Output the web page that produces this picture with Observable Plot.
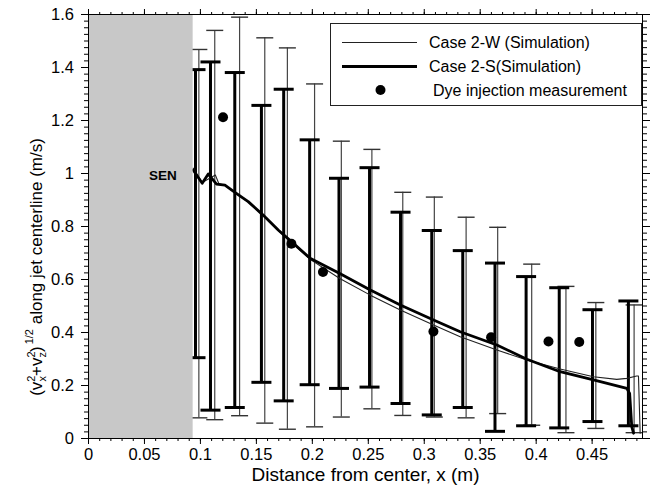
<!DOCTYPE html>
<html><head><meta charset="utf-8">
<script src="https://cdn.jsdelivr.net/npm/d3@7"></script>
<script src="https://cdn.jsdelivr.net/npm/@observablehq/plot@0.6"></script>
<style>body{margin:0;background:#fff}</style>
</head><body><div id="chart"></div>
<script>
// ---- data ----
const xTicks = [0, 0.05, 0.1, 0.15, 0.2, 0.25, 0.3, 0.35, 0.4, 0.45];
const yTicks = [0, 0.2, 0.4, 0.6, 0.8, 1, 1.2, 1.4, 1.6];
const xMinorTicks = d3.range(0, 50).map(i => i / 100);
const yMinorTicks = d3.range(0, 65).map(i => i * 0.025);
const xLabel = "Distance from center, x (m)";
const seriesNames = ["Case 2-W (Simulation)", "Case 2-S(Simulation)", "Dye injection measurement"];
const senLabel = "SEN";
const senExtent = [0, 0.0935];
const senLabelPos = [0.0665, 0.99];

// Case 2-W simulation (thin)
const wX = [0.0935, 0.1016, 0.1134, 0.1164, 0.1219, 0.1308, 0.1427, 0.156, 0.1695, 0.1813, 0.198, 0.2245, 0.2518, 0.2786, 0.3083, 0.3321, 0.3649, 0.3917, 0.4214, 0.4512, 0.472, 0.481, 0.4898, 0.4914, 0.4929];
const wY = [1.02, 0.966, 0.994, 0.962, 0.955, 0.927, 0.892, 0.841, 0.785, 0.740, 0.676, 0.604, 0.541, 0.485, 0.428, 0.384, 0.334, 0.296, 0.262, 0.233, 0.223, 0.227, 0.236, 0.236, 0.02];
// Case 2-S simulation (thick)
const sX = [0.0935, 0.1016, 0.107, 0.1144, 0.1219, 0.1308, 0.1427, 0.156, 0.1695, 0.1813, 0.198, 0.2245, 0.2518, 0.2786, 0.3083, 0.3321, 0.3649, 0.3917, 0.4214, 0.4512, 0.481, 0.4835, 0.4854, 0.487];
const sY = [1.013, 0.963, 0.998, 0.960, 0.956, 0.929, 0.894, 0.843, 0.787, 0.743, 0.680, 0.623, 0.560, 0.504, 0.447, 0.403, 0.353, 0.299, 0.252, 0.221, 0.189, 0.17, 0.045, 0.02];

// error bars, Case 2-S (thick)
const sBarX  = [0.0956, 0.109, 0.1307, 0.1545, 0.1744, 0.1976, 0.2238, 0.2511, 0.2788, 0.3067, 0.3344, 0.3632, 0.391, 0.4206, 0.4503, 0.4824];
const sBarHi = [1.392, 1.421, 1.381, 1.257, 1.318, 1.127, 0.982, 1.022, 0.854, 0.785, 0.709, 0.662, 0.611, 0.569, 0.486, 0.519];
const sBarLo = [0.305, 0.107, 0.117, 0.212, 0.142, 0.203, 0.189, 0.194, 0.132, 0.089, 0.117, 0.027, 0.048, 0.040, 0.064, 0.048];
// error bars, Case 2-W (thin)
const wBarX  = [0.0986, 0.1128, 0.135, 0.1575, 0.1777, 0.202, 0.2259, 0.2532, 0.2808, 0.309, 0.3374, 0.3656, 0.396, 0.4266, 0.4533, 0.4875];
const wBarHi = [1.468, 1.54, 1.59, 1.512, 1.474, 1.338, 1.122, 1.091, 0.929, 0.911, 0.835, 0.797, 0.658, 0.574, 0.513, 0.504];
const wBarLo = [0.078, 0.071, 0.086, 0.058, 0.035, 0.044, 0.081, 0.112, 0.087, 0.081, 0.078, 0.094, 0.05, 0.022, 0.038, 0.022];

// dye injection measurements
const dyeX = [0.1202, 0.1813, 0.2095, 0.3082, 0.3597, 0.411, 0.4385];
const dyeY = [1.212, 0.735, 0.628, 0.404, 0.382, 0.366, 0.364];

// ---- tables ----
const wLine = wX.map((x, i) => ({x, y: wY[i]}));
const sLine = sX.map((x, i) => ({x, y: sY[i]}));
const sBars = sBarX.map((x, i) => ({x, lo: sBarLo[i], hi: sBarHi[i]}));
const wBars = wBarX.map((x, i) => ({x, lo: wBarLo[i], hi: wBarHi[i]}));
const dye = dyeX.map((x, i) => ({x, y: dyeY[i]}));

const FONT = "'Liberation Sans', Arial, Helvetica, sans-serif";
const cap = hw => ({draw(ctx) { ctx.moveTo(-hw, 0); ctx.lineTo(hw, 0); }});

function yLabelMark() {
  const g = d3.create("svg:g");
  const cy = 267, bx = 42;
  const t = g.append("text")
    .attr("transform", `translate(${bx},${cy}) rotate(-90)`)
    .attr("text-anchor", "middle")
    .attr("font-size", 17)
    .attr("font-family", FONT)
    .attr("fill", "black");
  t.append("tspan").text("(v");
  t.append("tspan").attr("font-size", 11).attr("dy", -7).text("2");
  t.append("tspan").attr("font-size", 11).attr("dx", -6).attr("dy", 11).text("x");
  t.append("tspan").attr("dy", -4).text("+v");
  t.append("tspan").attr("font-size", 11).attr("dy", -7).text("2");
  t.append("tspan").attr("font-size", 11).attr("dx", -6).attr("dy", 11).text("z");
  t.append("tspan").attr("dy", -4).text(")");
  t.append("tspan").attr("font-size", 11).attr("dy", -9).attr("dx", 2).text("1/2");
  t.append("tspan").attr("dy", 9).text(" along jet centerline (m/s)");
  return g.node();
}

function legendMark() {
  const g = d3.create("svg:g").attr("font-family", FONT).attr("text-anchor", "start");
  g.append("rect").attr("x", 330.5).attr("y", 23.5).attr("width", 311).attr("height", 82)
    .attr("fill", "white").attr("stroke", "#222").attr("stroke-width", 1);
  g.append("line").attr("x1", 342).attr("x2", 417).attr("y1", 42.5).attr("y2", 42.5)
    .attr("stroke", "#222").attr("stroke-width", 1.2);
  g.append("line").attr("x1", 342).attr("x2", 417).attr("y1", 66.5).attr("y2", 66.5)
    .attr("stroke", "black").attr("stroke-width", 2.8);
  g.append("path").attr("d", d3.symbol(d3.symbolCircle, Math.PI * 25)())
    .attr("transform", "translate(380.5,90)").attr("fill", "black");
  const rows = [[429, 42.5], [429, 66.5], [433, 90]];
  seriesNames.forEach((name, i) => {
    g.append("text").attr("x", rows[i][0]).attr("y", rows[i][1]).attr("dy", "0.35em")
      .attr("text-anchor", "start")
      .attr("font-size", 16).attr("fill", "black").text(name);
  });
  return g.node();
}

const chart = Plot.plot({
  width: 657, height: 490,
  marginLeft: 88, marginRight: 15, marginTop: 14, marginBottom: 52,
  style: {fontFamily: FONT, fontSize: "16.5px", color: "black", background: "white"},
  x: {domain: [0, 0.495], label: null},
  y: {domain: [0, 1.6], label: null},
  marks: [
    // thin error bars
    Plot.ruleX(wBars, {x: "x", y1: "lo", y2: "hi", stroke: "#444", strokeWidth: 1.2}),
    Plot.dot(wBars, {x: "x", y: "hi", symbol: cap(8.5), r: 3, stroke: "#333", strokeWidth: 1.4, fill: "none"}),
    Plot.dot(wBars, {x: "x", y: "lo", symbol: cap(8.5), r: 3, stroke: "#333", strokeWidth: 1.4, fill: "none"}),
    // thick error bars
    Plot.ruleX(sBars, {x: "x", y1: "lo", y2: "hi", stroke: "black", strokeWidth: 3}),
    Plot.dot(sBars, {x: "x", y: "hi", symbol: cap(10), r: 3, stroke: "black", strokeWidth: 3, fill: "none"}),
    Plot.dot(sBars, {x: "x", y: "lo", symbol: cap(10), r: 3, stroke: "black", strokeWidth: 3, fill: "none"}),
    // simulation lines
    Plot.line(wLine, {x: "x", y: "y", stroke: "#222", strokeWidth: 1.1}),
    Plot.line(sLine, {x: "x", y: "y", stroke: "black", strokeWidth: 2.8}),
    // measurements
    Plot.dot(dye, {x: "x", y: "y", r: 5, fill: "black", stroke: "none"}),
    // SEN region
    Plot.rect([senExtent], {x1: d => d[0], x2: d => d[1], y1: 0, y2: 1.6, fill: "#c8c8c8"}),
    Plot.text([senLabel], {x: senLabelPos[0], y: senLabelPos[1], text: d => d, fontSize: 13.5, fontWeight: "bold", fill: "black"}),
    legendMark,
    Plot.frame({stroke: "black", strokeWidth: 1}),
    // axes
    Plot.axisX({ticks: xTicks, anchor: "bottom", tickSize: 6, tickPadding: 4, tickFormat: d => String(d), label: null}),
    Plot.axisX({ticks: xMinorTicks, anchor: "bottom", tickSize: 3, fill: "none", tickFormat: () => "", label: null}),
    Plot.axisX({ticks: xTicks, anchor: "top", tickSize: 6, fill: "none", tickFormat: () => "", label: null}),
    Plot.axisX({ticks: xMinorTicks, anchor: "top", tickSize: 3, fill: "none", tickFormat: () => "", label: null}),
    Plot.axisY({ticks: yTicks, anchor: "left", tickSize: 7, tickPadding: 7.5, tickFormat: d => String(d), label: null}),
    Plot.axisY({ticks: yMinorTicks, anchor: "left", tickSize: 4, fill: "none", tickFormat: () => "", label: null}),
    Plot.axisY({ticks: yTicks, anchor: "right", tickSize: 7, fill: "none", tickFormat: () => "", label: null}),
    Plot.axisY({ticks: yMinorTicks, anchor: "right", tickSize: 4, fill: "none", tickFormat: () => "", label: null}),
    Plot.text([xLabel], {frameAnchor: "bottom", dy: 42, text: d => d, fontSize: 19, fill: "black"}),
    yLabelMark
  ]
});
document.getElementById("chart").appendChild(chart);
</script>
</body></html>
